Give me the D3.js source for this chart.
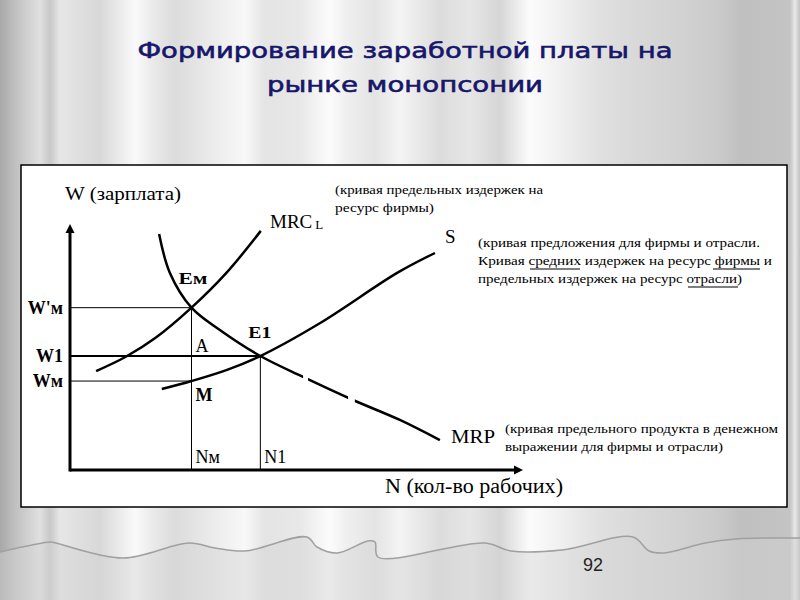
<!DOCTYPE html>
<html>
<head>
<meta charset="utf-8">
<script src="https://cdn.jsdelivr.net/npm/d3@7"></script>
<style>
  html, body { margin: 0; padding: 0; }
  svg { display: block; }
  .serif { font-family: "Liberation Serif", "Times New Roman", serif; fill: #000; }
</style>
</head>
<body>
<script>

// Data (conceptual units, 0..100 on both axes)

var mrcCurve = [[5.8, 40.7], [12.4, 46.6], [19.1, 54.5], [27, 66.8], [34.7, 81.0], [42.4, 98.4]],
    mrpCurve = [[19.8, 97.1], [22.2, 81.1], [27, 66.8], [33.3, 57.6], [42.3, 46.9],
                [51.8, 38.3], [62.9, 28.8], [73.3, 20.6], [82.2, 12.3]],
    sCurve   = [[20.4, 33.3], [27, 36.6], [34.9, 41.2], [42.3, 46.9], [55.6, 60.5], [72.7, 81.1], [81.1, 89.3]];

var wageLevels  = [{ name: "W'м", v: 66.8, upTo: 27 }, { name: "W1", v: 46.9, upTo: 42.3 }, { name: "Wм", v: 36.6, upTo: 27 }],
    labourLevels = [{ name: "Nм", v: 27, from: 66.8 }, { name: "N1", v: 42.3, from: 46.9 }],
    mrpGaps = [[51.8, 52.9], [61.8, 63.3]];

var titleLines = ["Формирование заработной платы на", "рынке монопсонии"],
    noteMRC = ["(кривая предельных издержек на", "ресурс фирмы)"],
    noteS   = ["(кривая предложения для фирмы и отрасли.", "Кривая средних издержек на ресурс фирмы и", "предельных издержек на ресурс отрасли)"],
    noteMRP = ["(кривая предельного продукта в денежном", "выражении для фирмы и отрасли)"];

var W = 800, H = 600;

var svg = d3.select("body").append("svg")
    .attr("width", W)
    .attr("height", H);

var defs = svg.append("defs");

// Curtain background - vertical stripes

var stripes = [[0, "#a8a8a8"], [15, "#c0c0c0"], [40, "#e0e0e0"], [50, "#c8c8c8"], [60, "#e6e6e6"],
  [100, "#d8d8d8"], [135, "#fafafa"], [155, "#e8e8e8"], [175, "#dcdcdc"], [200, "#e6e6e6"],
  [245, "#f8f8f8"], [265, "#e4e4e4"], [300, "#e8e8e8"], [330, "#fcfcfc"], [345, "#f0f0f0"],
  [375, "#e4e4e4"], [400, "#f4f4f4"], [440, "#dcdcdc"], [470, "#e6e6e6"], [500, "#d6d6d6"],
  [530, "#fcfcfc"], [560, "#f0f0f0"], [600, "#e0e0e0"], [640, "#d8d8d8"], [680, "#d2d2d2"],
  [720, "#cacaca"], [740, "#c0c0c0"], [790, "#c4c4c4"], [795, "#e8e8e8"], [800, "#c0c0c0"]];

var grad = defs.append("linearGradient")
    .attr("id", "curtain")
    .attr("x1", 0).attr("x2", 1).attr("y1", 0).attr("y2", 0);

grad.selectAll("stop")
  .data(stripes)
  .enter().append("stop")
    .attr("offset", function(d) { return d[0] / W; })
    .attr("stop-color", function(d) { return d[1]; });

svg.append("rect")
    .attr("width", W)
    .attr("height", H)
    .attr("fill", "url(#curtain)");

// lower hem of the curtain
var hem = [[0, 552], [51, 542], [56, 543], [123, 558], [189, 543], [215, 548], [245, 551], [307, 537],
  [317, 547], [337, 553], [368, 541], [375, 542], [378, 557], [485, 543], [511, 551], [562, 550],
  [633, 537], [649, 551], [664, 553], [705, 543], [736, 539], [800, 538]];

svg.append("path")
    .attr("d", d3.line().curve(d3.curveCatmullRom)(hem) + "L800,600L0,600Z")
    .attr("fill", "#d2d2d2")
    .attr("fill-opacity", 0.45);

svg.append("path")
    .attr("d", d3.line().curve(d3.curveCatmullRom)(hem))
    .attr("fill", "none")
    .attr("stroke", "#a0a0a0")
    .attr("stroke-width", 1.5);

// Title

svg.selectAll(".title")
  .data(titleLines)
  .enter().append("text")
    .attr("class", "title")
    .attr("x", 405)
    .attr("y", function(d, i) { return 58 + i * 34; })
    .attr("text-anchor", "middle")
    .attr("textLength", function(d, i) { return i ? 276 : 535; })
    .attr("lengthAdjust", "spacingAndGlyphs")
    .style("font-family", "'DejaVu Sans', Verdana, sans-serif")
    .style("font-size", "22px")
    .style("fill", "#16166a")
    .style("stroke", "#16166a")
    .style("stroke-width", 0.6)
    .text(function(d) { return d; });

svg.append("text")
    .attr("x", 593)
    .attr("y", 571)
    .attr("text-anchor", "middle")
    .style("font-family", "'Liberation Sans', Arial, sans-serif")
    .style("font-size", "18px")
    .style("fill", "#222")
    .text("92");

// White panel

svg.append("rect")
    .attr("x", 21)
    .attr("y", 165)
    .attr("width", 766)
    .attr("height", 342)
    .attr("fill", "#fff")
    .attr("stroke", "#000")
    .attr("stroke-width", 1.5);

// Scales

var x = d3.scaleLinear().domain([0, 100]).range([70, 520]),
    y = d3.scaleLinear().domain([0, 100]).range([470, 227]);

var g = svg.append("g");

// Guide lines

g.selectAll(".hguide")
  .data(wageLevels)
  .enter().append("line")
    .attr("x1", x(0))
    .attr("x2", function(d) { return x(d.upTo); })
    .attr("y1", function(d) { return y(d.v); })
    .attr("y2", function(d) { return y(d.v); })
    .attr("stroke", "#000")
    .attr("stroke-width", function(d) { return d.name == "W1" ? 2 : 1; });

g.selectAll(".vguide")
  .data(labourLevels)
  .enter().append("line")
    .attr("x1", function(d) { return x(d.v); })
    .attr("x2", function(d) { return x(d.v); })
    .attr("y1", function(d) { return y(d.from); })
    .attr("y2", y(0))
    .attr("stroke", "#000")
    .attr("stroke-width", 1);

// Axes

g.append("g")
    .attr("transform", "translate(0," + y(0) + ")")
    .call(d3.axisBottom(x).tickValues([]).tickSizeOuter(0))
    .select(".domain")
    .attr("d", "M" + x(0) + ",0H" + (x(100) - 4))
    .attr("stroke-width", 3);

g.append("g")
    .attr("transform", "translate(" + x(0) + ",0)")
    .call(d3.axisLeft(y).tickValues([]).tickSizeOuter(0))
    .select(".domain")
    .attr("d", "M0," + (y(0) + 1.5) + "V" + (y(100) + 4))
    .attr("stroke-width", 3);

// arrow heads
g.append("path")
    .attr("d", "M" + (x(100) + 3) + "," + y(0) + "l-9,-4.5v9z");
g.append("path")
    .attr("d", "M" + x(0) + "," + (y(100) - 3) + "l-4.5,9h9z");

// Curves

var line = d3.line()
    .x(function(d) { return x(d[0]); })
    .y(function(d) { return y(d[1]); })
    .curve(d3.curveCatmullRom);

var clip = defs.append("clipPath").attr("id", "mrpclip");
var cuts = [0].concat(mrpGaps.reduce(function(a, d) { return a.concat(d); }, []), [100]);
for (var i = 0; i < cuts.length; i += 2) {
  clip.append("rect")
      .attr("x", x(cuts[i]))
      .attr("y", 0)
      .attr("width", x(cuts[i + 1]) - x(cuts[i]))
      .attr("height", H);
}

g.append("path")
    .attr("d", line(mrcCurve))
    .attr("fill", "none")
    .attr("stroke", "#000")
    .attr("stroke-width", 2.5);

g.append("path")
    .attr("d", line(sCurve))
    .attr("fill", "none")
    .attr("stroke", "#000")
    .attr("stroke-width", 2.5);

g.append("path")
    .attr("d", line(mrpCurve))
    .attr("clip-path", "url(#mrpclip)")
    .attr("fill", "none")
    .attr("stroke", "#000")
    .attr("stroke-width", 2.5);

// Labels

function label(txt, px, py, size, weight, anchor, len) {
  var t = g.append("text")
      .attr("class", "serif")
      .attr("x", px)
      .attr("y", py)
      .attr("text-anchor", anchor || "start")
      .style("font-size", size + "px")
      .style("font-weight", weight || "normal")
      .text(txt);
  if (len) t.attr("textLength", len).attr("lengthAdjust", "spacingAndGlyphs");
  return t;
}

label("W (зарплата)", 65, 200, 19, null, null, 116);
label("N (кол-во рабочих)", 385, 493, 20, null, null, 178);

var mrc = label("MRC", 270, 228, 19);
mrc.append("tspan").attr("dx", 3).attr("dy", 1).style("font-size", "13px").text("L");
label("S", 445, 243, 19);
label("MRP", 451, 443, 19, null, null, 44);

label("Eм", x(27) - 13, y(66.8) - 24, 17, "bold", null, 29);
label("E1", x(42.3) - 12, y(46.9) - 18, 17, "bold", null, 23);
label("A", x(27) + 4, y(46.9) - 4, 18);
label("M", x(27) + 4, y(36.6) + 20, 18, "bold");

wageLevels.forEach(function(d) {
  label(d.name, x(0) - 7, y(d.v) + 6, 18, "bold", "end");
});
labourLevels.forEach(function(d) {
  label(d.name, x(d.v) + 4, y(0) - 7, 18);
});

// Notes

function note(lines, px, py, widths) {
  lines.forEach(function(t, i) {
    g.append("text")
        .attr("class", "serif")
        .attr("x", px)
        .attr("y", py + i * 18)
        .attr("textLength", widths[i])
        .attr("lengthAdjust", "spacingAndGlyphs")
        .style("font-size", "13px")
        .text(t);
  });
}

note(noteMRC, 335, 194, [208, 99]);
note(noteS, 478, 247, [282, 294, 264]);
note(noteMRP, 505, 433, [273, 218]);

// underlines in the supply note
var underlines = [[530, 580, 269], [713, 760, 269], [688, 738, 287]];
g.selectAll(".ul")
  .data(underlines)
  .enter().append("line")
    .attr("x1", function(d) { return d[0]; })
    .attr("x2", function(d) { return d[1]; })
    .attr("y1", function(d) { return d[2]; })
    .attr("y2", function(d) { return d[2]; })
    .attr("stroke", "#000")
    .attr("stroke-width", 1.2);

</script>
</body>
</html>
